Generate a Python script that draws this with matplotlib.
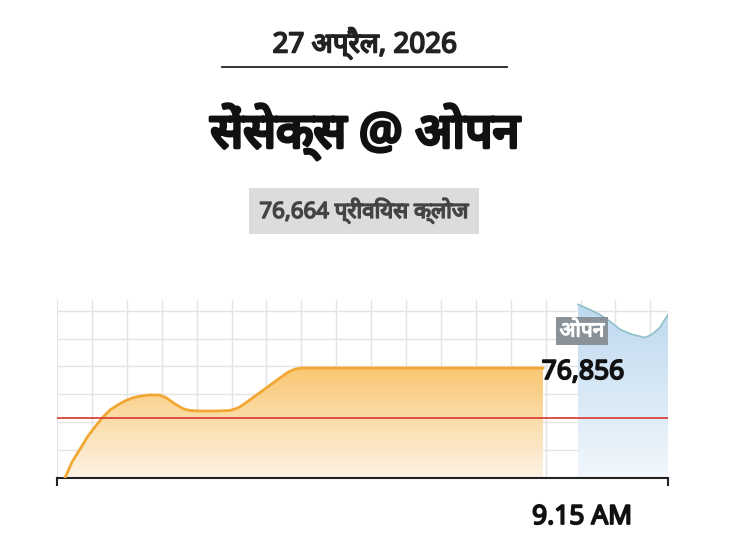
import matplotlib
matplotlib.use("Agg")
import matplotlib.pyplot as plt
import matplotlib.patheffects as pe
import numpy as np
from matplotlib.colors import LinearSegmentedColormap

date_label = "27 अप्रैल, 2026"
title = "सेंसेक्स @ ओपन"
prev_label = "76,664 प्रीवियस क्लोज"
open_label = "ओपन"
open_value_label = "76,856"
time_label = "9.15 AM"

prev_close = 76664
t_orange = [65, 72, 80, 88, 95, 103, 110, 118, 125, 133, 140, 150, 160, 167, 175, 183, 190, 200, 215, 230, 238, 245, 252, 260, 270, 280, 288, 295, 302, 310, 543]
v_orange = [76434, 76495, 76545, 76595, 76630, 76668, 76695, 76715, 76730, 76742, 76748, 76753, 76752, 76740, 76718, 76700, 76693, 76691, 76691, 76693, 76703, 76720, 76740, 76762, 76790, 76818, 76840, 76852, 76856, 76856, 76856]
t_blue = [578, 590, 600, 610, 620, 632, 645, 652, 660, 668]
v_blue = [77100, 77080, 77061, 77035, 77004, 76985, 76973, 76985, 77012, 77061]

plt.rcParams['font.family'] = ['Noto Sans', 'Lato', 'DejaVu Sans']

def bold(lw, c):
    return [pe.withStroke(linewidth=lw, foreground=c)]

fig = plt.figure(figsize=(7.3, 5.48), dpi=100)
ax = fig.add_axes([57/730, 1-478/548, (668-57)/730, 178/548])
ymin, ymax = 76434, 77117
ax.set_xlim(57, 668)
ax.set_ylim(ymin, ymax)

for x in np.arange(57, 669, 34.9):
    ax.axvline(x, color='#e4e4e4', lw=1, zorder=0)
for y in np.arange(ymin, ymax, 107):
    ax.axhline(y, color='#e4e4e4', lw=1, zorder=0)

grad = np.linspace(0, 1, 256).reshape(-1, 1)
ocm = LinearSegmentedColormap.from_list('o', ['#fdf3e6', '#f9c873'])
im = ax.imshow(grad, extent=[57, 668, ymin, 76856], origin='lower', cmap=ocm, aspect='auto', zorder=1)
poly = ax.fill_between(t_orange, v_orange, ymin, color='none')
im.set_clip_path(poly.get_paths()[0], transform=ax.transData)
ax.plot(t_orange, v_orange, color='#f2a735', lw=2, zorder=3)

bcm = LinearSegmentedColormap.from_list('b', ['#f2f7fc', '#bcd8ef'])
im2 = ax.imshow(grad, extent=[578, 668, ymin, ymax], origin='lower', cmap=bcm, aspect='auto', zorder=1)
poly2 = ax.fill_between(t_blue, v_blue, ymin, color='none')
im2.set_clip_path(poly2.get_paths()[0], transform=ax.transData)
ax.plot(t_blue, v_blue, color='#8fc0c8', lw=1.2, zorder=3)

ax.axhline(prev_close, color='#d9443a', lw=1.3, zorder=4)

for s in ['top', 'right', 'left']:
    ax.spines[s].set_visible(False)
ax.spines['bottom'].set_color('#222222')
ax.spines['bottom'].set_linewidth(1.5)
ax.set_yticks([])
ax.set_xticks([57, 668])
ax.set_xticklabels([])
ax.tick_params(axis='x', length=6, width=1.5, color='#222222', direction='out')

fig.text(365/730, 1-44/548, date_label, ha='center', va='center', fontsize=20, color='#222222',
         path_effects=bold(1.3, '#222222'))
fig.add_artist(plt.Line2D([222/730, 507/730], [1-67/548]*2, color='#222222', lw=1.3))
fig.text(365/730, 1-132/548, title, ha='center', va='center', fontsize=35, color='#111111',
         path_effects=bold(2.5, '#111111'))
fig.text(364/730, 1-211/548, prev_label, ha='center', va='center', fontsize=16, color='#444444',
         path_effects=bold(1.1, '#444444'),
         bbox=dict(boxstyle='square,pad=0.45', fc='#dcdcdc', ec='none'))
fig.text(582/730, 1-331/548, open_label, ha='center', va='center', fontsize=15, color='white',
         path_effects=bold(0.9, 'white'),
         bbox=dict(boxstyle='square,pad=0.15', fc='#8a9299', ec='none'))
fig.text(583/730, 1-372/548, open_value_label, ha='center', va='center', fontsize=19, color='#111111',
         path_effects=bold(1.3, '#111111'))
fig.text(582/730, 1-517/548, time_label, ha='center', va='center', fontsize=19, color='#111111',
         path_effects=bold(1.3, '#111111'))

fig.savefig('out.png', dpi=100, facecolor='white')
